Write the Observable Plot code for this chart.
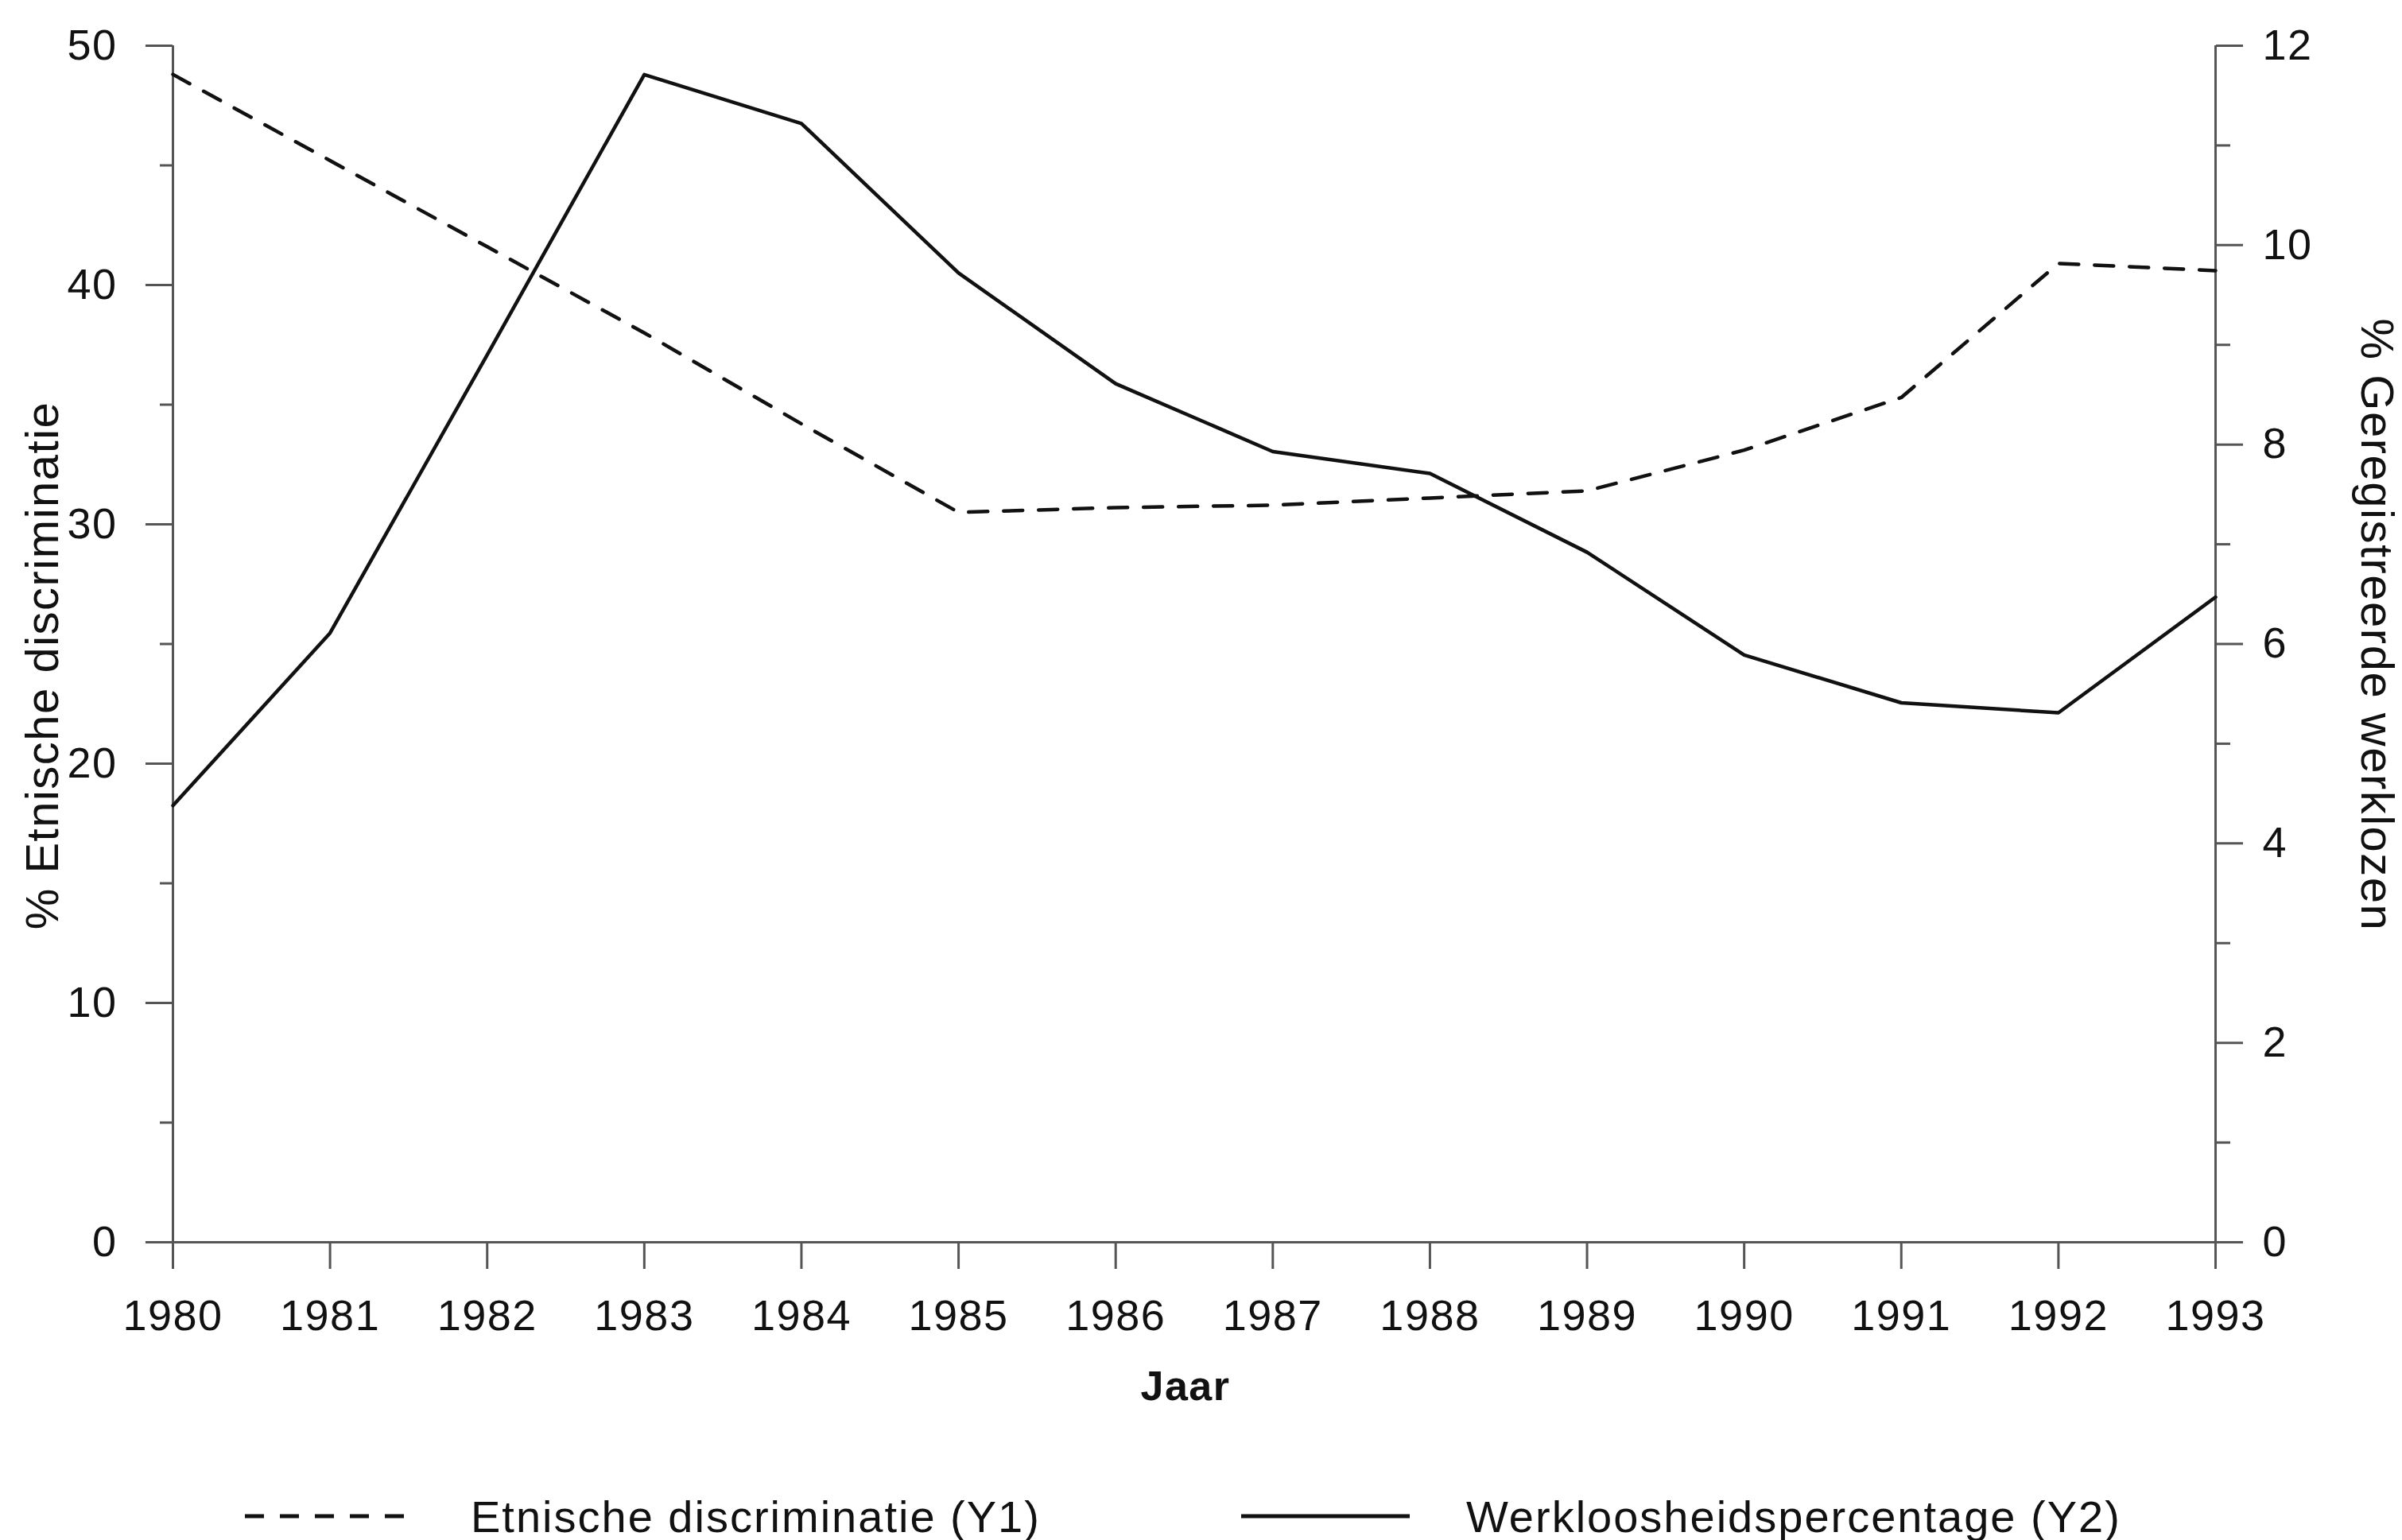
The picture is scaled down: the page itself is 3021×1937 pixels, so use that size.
<!DOCTYPE html>
<html>
<head>
<meta charset="utf-8">
<script src="https://cdn.jsdelivr.net/npm/d3@7"></script>
<script src="https://cdn.jsdelivr.net/npm/@observablehq/plot@0.6"></script>
<style>
html, body { margin: 0; padding: 0; background: #fff; }
#chart svg text { letter-spacing: 1.5px; }
#legend { position: relative; width: 3021px; height: 137px; font-family: "Liberation Sans", Arial, sans-serif; font-size: 56px; color: #111; letter-spacing: 2px; }
#legend .item { position: absolute; top: 77px; height: 60px; display: flex; align-items: center; }
#legend svg { position: absolute; }
</style>
</head>
<body>
<div id="chart"></div>
<div id="legend"></div>
<script>
// ---- data ----
const years = [1980, 1981, 1982, 1983, 1984, 1985, 1986, 1987, 1988, 1989, 1990, 1991, 1992, 1993];
const discrimination = [48.8, 45.2, 41.6, 38.0, 34.2, 30.5, 30.7, 30.8, 31.1, 31.4, 33.1, 35.3, 40.9, 40.6];
const unemployment = [4.38, 6.11, 8.9, 11.71, 11.22, 9.72, 8.61, 7.93, 7.71, 6.92, 5.89, 5.41, 5.31, 6.47];

const leftTicks = [0, 10, 20, 30, 40, 50];
const leftMinorTicks = [5, 15, 25, 35, 45];
const rightTicks = [0, 2, 4, 6, 8, 10, 12];
const rightMinorTicks = [1, 3, 5, 7, 9, 11];

const leftTitle = "% Etnische discriminatie";
const rightTitle = "% Geregistreerde werklozen";
const xTitle = "Jaar";
const seriesLabels = ["Etnische discriminatie (Y1)", "Werkloosheidspercentage (Y2)"];

const Y1_MAX = 50, Y2_MAX = 12;
const k = Y1_MAX / Y2_MAX;

const table = years.map((year, i) => ({year, discr: discrimination[i], unemp: unemployment[i]}));

const W = 3021, H = 1800;
const FONT = '"Liberation Sans", Arial, Helvetica, sans-serif';
const AX = "#555";
const INK = "#111";
const DASH = "24,20";

const plot = Plot.plot({
  width: W,
  height: H,
  marginLeft: 217,
  marginRight: 235,
  marginTop: 57,
  marginBottom: H - 1562,
  x: {domain: [years[0], years[years.length - 1]]},
  y: {domain: [0, Y1_MAX]},
  style: {fontFamily: FONT, fontSize: "54px", color: INK, background: "#fff", overflow: "visible"},
  marks: [
    Plot.ruleY([0], {stroke: AX, strokeWidth: 3}),
    Plot.ruleX([years[0], years[years.length - 1]], {stroke: AX, strokeWidth: 3}),
    Plot.axisY(leftTicks, {anchor: "left", tickSize: 34, tickPadding: 36, stroke: AX, strokeWidth: 3, fill: INK, label: null, fontSize: 54}),
    Plot.axisY(leftMinorTicks, {anchor: "left", tickSize: 16, tickFormat: () => "", stroke: AX, strokeWidth: 3, label: null}),
    Plot.axisY(rightTicks.map(v => v * k), {anchor: "right", tickSize: 34, tickPadding: 25, stroke: AX, strokeWidth: 3, fill: INK, label: null, fontSize: 54, tickFormat: d => String(Math.round(d / k))}),
    Plot.axisY(rightMinorTicks.map(v => v * k), {anchor: "right", tickSize: 18, tickFormat: () => "", stroke: AX, strokeWidth: 3, label: null}),
    Plot.axisX(years, {anchor: "bottom", tickSize: 34, tickPadding: 38, stroke: AX, strokeWidth: 3, fill: INK, label: null, fontSize: 54, tickFormat: d => String(d)}),
    Plot.line(table, {x: "year", y: "discr", stroke: INK, strokeWidth: 4.5, strokeDasharray: DASH}),
    Plot.line(table, {x: "year", y: d => d.unemp * k, stroke: INK, strokeWidth: 4.5}),
    Plot.text([leftTitle], {text: d => d, frameAnchor: "left", textAnchor: "middle", lineAnchor: "middle", rotate: -90, dx: -163, dy: 27, fontSize: 58, fill: INK}),
    Plot.text([rightTitle], {text: d => d, frameAnchor: "right", textAnchor: "middle", lineAnchor: "middle", rotate: 90, dx: 202, dy: -24, fontSize: 58, fill: INK}),
    Plot.text([xTitle], {text: d => d, frameAnchor: "bottom", textAnchor: "middle", lineAnchor: "middle", dx: -11, dy: 182, fontSize: 52, fontWeight: "bold", fill: INK})
  ]
});
document.getElementById("chart").appendChild(plot);

// ---- legend ----
const legend = d3.select("#legend");
const legendItems = [
  {label: seriesLabels[0], dash: DASH, x0: 308, x1: 511, tx: 592},
  {label: seriesLabels[1], dash: null, x0: 1561, x1: 1773, tx: 1844}
];
legendItems.forEach(it => {
  const s = legend.append("svg")
    .attr("width", it.x1 - it.x0 + 10)
    .attr("height", 20)
    .style("left", (it.x0 - 5) + "px")
    .style("top", (107 - 10) + "px");
  s.append("line")
    .attr("x1", 5).attr("x2", it.x1 - it.x0 + 5)
    .attr("y1", 10).attr("y2", 10)
    .attr("stroke", INK)
    .attr("stroke-width", 5)
    .attr("stroke-dasharray", it.dash);
  legend.append("div").attr("class", "item").style("left", it.tx + "px").text(it.label);
});
</script>
</body>
</html>
